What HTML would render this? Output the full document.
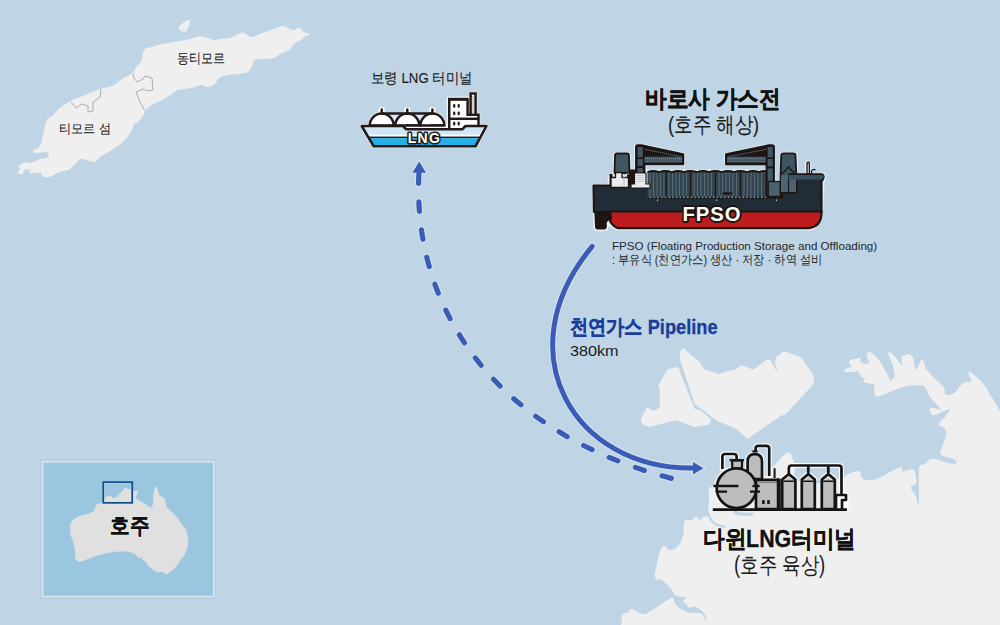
<!DOCTYPE html>
<html><head><meta charset="utf-8">
<style>
html,body{margin:0;padding:0;}
body{width:1000px;height:625px;overflow:hidden;position:relative;background:#bfd5e6;font-family:"Liberation Sans",sans-serif;color:#1a1a1a;}
svg.map{position:absolute;left:0;top:0;}
.t{position:absolute;white-space:nowrap;line-height:1;transform-origin:0 0;}
</style></head><body>
<svg class="map" width="1000" height="625" viewBox="0 0 1000 625">
<!-- Timor -->
<g fill="#efefef">
<path d="M179.0,27.0 C179.5,25.8 181.3,24.2 183.0,23.0 C184.7,21.8 187.8,20.2 189.0,20.0 C190.2,19.8 190.2,20.7 190.0,22.0 C189.8,23.3 188.8,26.3 188.0,28.0 C187.2,29.7 186.3,31.7 185.0,32.0 C183.7,32.3 181.0,30.8 180.0,30.0 C179.0,29.2 178.5,28.2 179.0,27.0 Z"/>
<path d="M47.0,120.0 C48.6,117.2 49.4,118.4 52.0,116.0 C54.6,113.6 56.2,111.0 60.0,108.0 C63.8,105.0 65.4,103.8 71.0,101.0 C76.6,98.2 82.2,96.4 88.0,94.0 C93.8,91.6 95.2,90.6 100.0,89.0 C104.8,87.4 107.6,88.0 112.0,86.0 C116.4,84.0 118.0,81.6 122.0,79.0 C126.0,76.4 129.0,75.6 132.0,73.0 C135.0,70.4 135.0,68.6 137.0,66.0 C139.0,63.4 140.6,63.2 142.0,60.0 C143.4,56.8 142.0,52.6 144.0,50.0 C146.0,47.4 148.4,48.2 152.0,47.0 C155.6,45.8 157.6,45.0 162.0,44.0 C166.4,43.0 168.4,43.0 174.0,42.0 C179.6,41.0 185.4,40.0 190.0,39.0 C194.6,38.0 194.2,37.4 197.0,37.0 C199.8,36.6 200.6,36.4 204.0,37.0 C207.4,37.6 210.8,39.6 214.0,40.0 C217.2,40.4 216.8,39.4 220.0,39.0 C223.2,38.6 226.4,39.0 230.0,38.0 C233.6,37.0 235.2,35.0 238.0,34.0 C240.8,33.0 241.2,32.4 244.0,33.0 C246.8,33.6 248.4,37.0 252.0,37.0 C255.6,37.0 257.6,34.6 262.0,33.0 C266.4,31.4 269.8,30.4 274.0,29.0 C278.2,27.6 279.8,26.0 283.0,26.0 C286.2,26.0 287.8,28.2 290.0,29.0 C292.2,29.8 292.2,30.2 294.0,30.0 C295.8,29.8 297.0,27.6 299.0,28.0 C301.0,28.4 301.8,30.8 304.0,32.0 C306.2,33.2 309.6,33.2 310.0,34.0 C310.4,34.8 307.8,34.8 306.0,36.0 C304.2,37.2 303.4,38.4 301.0,40.0 C298.6,41.6 296.4,42.0 294.0,44.0 C291.6,46.0 291.8,48.0 289.0,50.0 C286.2,52.0 283.0,52.4 280.0,54.0 C277.0,55.6 277.2,57.0 274.0,58.0 C270.8,59.0 267.8,58.6 264.0,59.0 C260.2,59.4 257.4,58.6 255.0,60.0 C252.6,61.4 253.4,63.6 252.0,66.0 C250.6,68.4 250.8,70.4 248.0,72.0 C245.2,73.6 242.0,73.4 238.0,74.0 C234.0,74.6 231.8,74.2 228.0,75.0 C224.2,75.8 221.6,76.2 219.0,78.0 C216.4,79.8 217.2,82.2 215.0,84.0 C212.8,85.8 210.8,86.8 208.0,87.0 C205.2,87.2 204.4,84.8 201.0,85.0 C197.6,85.2 195.6,87.0 191.0,88.0 C186.4,89.0 181.8,88.8 178.0,90.0 C174.2,91.2 175.2,92.0 172.0,94.0 C168.8,96.0 166.0,97.8 162.0,100.0 C158.0,102.2 155.2,103.0 152.0,105.0 C148.8,107.0 147.8,107.8 146.0,110.0 C144.2,112.2 144.6,113.6 143.0,116.0 C141.4,118.4 139.8,120.4 138.0,122.0 C136.2,123.6 135.2,122.4 134.0,124.0 C132.8,125.6 134.0,126.6 132.0,130.0 C130.0,133.4 128.0,137.0 124.0,141.0 C120.0,145.0 116.8,146.8 112.0,150.0 C107.2,153.2 103.6,154.6 100.0,157.0 C96.4,159.4 97.4,161.6 94.0,162.0 C90.6,162.4 86.2,159.2 83.0,159.0 C79.8,158.8 80.6,159.0 78.0,161.0 C75.4,163.0 73.6,166.8 70.0,169.0 C66.4,171.2 64.2,170.4 60.0,172.0 C55.8,173.6 52.6,176.2 49.0,177.0 C45.4,177.8 43.6,176.8 42.0,176.0 C40.4,175.2 43.4,173.6 41.0,173.0 C38.6,172.4 32.2,173.6 30.0,173.0 C27.8,172.4 31.2,170.6 30.0,170.0 C28.8,169.4 25.4,169.2 24.0,170.0 C22.6,170.8 24.2,173.4 23.0,174.0 C21.8,174.6 18.6,174.0 18.0,173.0 C17.4,172.0 19.8,170.4 20.0,169.0 C20.2,167.6 18.0,167.4 19.0,166.0 C20.0,164.6 22.8,162.6 25.0,162.0 C27.2,161.4 27.0,163.6 30.0,163.0 C33.0,162.4 36.8,160.0 40.0,159.0 C43.2,158.0 44.2,158.8 46.0,158.0 C47.8,157.2 49.0,156.2 49.0,155.0 C49.0,153.8 48.8,152.4 46.0,152.0 C43.2,151.6 37.4,153.4 35.0,153.0 C32.6,152.6 33.2,151.2 34.0,150.0 C34.8,148.8 37.4,149.0 39.0,147.0 C40.6,145.0 41.0,143.4 42.0,140.0 C43.0,136.6 43.0,134.0 44.0,130.0 C45.0,126.0 45.4,122.8 47.0,120.0 Z"/>
</g>
<g fill="none" stroke="#9b9b9b" stroke-width="0.8">
<path d="M71,102 L76,108 L82,104 L88,106 L88,112 L93,111 L93,102 L100,97 L101,89"/>
<path d="M133,73 L134,78 L137,82 L143,79 L145,76 L152,78 L153,90 L148,91 L143,89 L136,92 L140,102 L145,111"/>
</g>
<!-- Australia NT -->
<g fill="#efefef">
<path d="M646.8,407.3 L652.2,410.3 L656,410.3 L659.8,406.6 L659.8,389.1 L658.2,386 L667.4,369.3 L678,367 L694.7,408.8 L700.8,410.3 L706.9,415.7 L711.4,420.2 L709.1,424.8 L694.7,427.1 L675.7,420.2 L649.1,427.1 L642.3,424 L640.8,419.5 Z"/>
<path d="M683.3,348 L680.3,351.1 L679.8,358.7 L694.7,404.3 L703.1,410.3 L716,420.2 L736.4,429.1 L747.6,438.7 L781.2,415.5 L785.3,414.7 L814.1,383.4 L813.3,374.6 L800.5,357 L783.7,351.1 L776.4,357 L774.8,362.6 L778,373.8 L770,359.4 L766.8,359.4 L753.2,369.8 L741.2,365 L735.6,369.8 L730,370.6 L719,373.9 L703.8,369.3 L700,362.5 Z"/>
<path d="M844.0,371.5 C842.6,370.8 844.6,370.0 846.0,369.0 C847.4,368.0 848.5,367.8 850.0,367.2 C851.5,366.6 852.5,367.1 852.5,366.5 C852.5,365.9 850.7,365.8 850.0,364.5 C849.3,363.2 849.0,362.2 849.5,361.0 C850.0,359.8 850.5,360.0 852.0,359.5 C853.5,359.0 854.4,359.4 856.0,359.0 C857.6,358.6 858.0,358.0 859.0,358.0 C860.0,358.0 860.1,358.1 860.5,359.0 C860.9,359.9 859.9,360.9 860.5,362.0 C861.1,363.1 861.2,363.1 863.0,363.5 C864.8,363.9 866.6,363.7 868.0,363.5 C869.4,363.3 869.2,364.1 869.0,362.5 C868.8,360.9 867.4,358.6 867.0,356.5 C866.6,354.4 866.9,354.6 867.5,353.5 C868.1,352.4 868.2,351.9 869.5,352.0 C870.8,352.1 871.0,352.4 873.0,354.0 C875.0,355.6 875.9,356.4 878.0,359.0 C880.1,361.6 880.1,362.0 882.0,365.0 C883.9,368.0 884.4,369.0 886.0,372.0 C887.6,375.0 887.8,375.8 889.0,378.0 C890.2,380.2 890.3,381.3 891.0,381.5 C891.7,381.7 891.2,379.9 892.0,379.0 C892.8,378.1 894.0,379.4 894.5,377.5 C895.0,375.6 894.6,374.4 894.0,371.0 C893.4,367.6 893.2,366.5 892.0,363.0 C890.8,359.5 890.0,358.2 889.0,356.0 C888.0,353.8 887.5,354.3 887.5,353.5 C887.5,352.7 888.0,352.5 889.0,352.5 C890.0,352.5 890.4,352.2 892.0,353.5 C893.6,354.8 894.1,355.8 896.0,358.0 C897.9,360.2 898.5,361.4 900.0,363.0 C901.5,364.6 902.1,365.7 902.5,365.0 C902.9,364.3 901.7,362.0 901.5,360.0 C901.3,358.0 900.9,357.6 901.5,356.5 C902.1,355.4 902.8,355.9 904.0,355.5 C905.2,355.1 905.5,355.4 906.5,355.0 C907.5,354.6 907.5,353.9 908.5,354.0 C909.5,354.1 909.8,354.3 911.0,355.5 C912.2,356.7 912.7,356.8 913.5,359.0 C914.3,361.2 914.0,362.7 914.5,365.0 C915.0,367.3 914.8,368.3 915.5,369.0 C916.2,369.7 916.6,369.4 917.5,368.0 C918.4,366.6 918.6,364.9 919.5,363.0 C920.4,361.1 920.7,360.6 921.5,360.0 C922.3,359.4 922.3,359.6 923.0,360.5 C923.7,361.4 923.8,362.0 924.5,364.0 C925.2,366.0 924.7,366.9 926.0,369.0 C927.3,371.1 928.1,370.9 930.0,373.0 C931.9,375.1 931.5,375.3 934.2,378.0 C936.9,380.7 939.0,381.8 941.4,384.4 C943.8,387.0 943.7,387.0 944.6,389.2 C945.5,391.4 944.1,392.7 945.4,394.0 C946.7,395.3 947.8,395.4 950.2,394.8 C952.6,394.2 953.2,394.0 955.8,391.6 C958.4,389.2 959.0,386.6 961.4,384.4 C963.8,382.2 964.0,382.7 966.2,382.0 C968.4,381.3 970.4,383.4 971.0,381.2 C971.6,379.0 967.5,373.5 968.6,372.4 C969.7,371.3 972.3,373.6 975.8,376.4 C979.3,379.2 980.1,379.5 983.8,384.4 C987.5,389.3 988.0,390.9 991.8,397.2 C995.6,403.5 997.2,406.7 1000.0,411.6 C1002.8,416.5 1003.1,397.4 1004.0,418.0 C1004.9,438.6 1004.0,450.8 1004.0,500.0 C1004.0,549.2 1028.3,598.9 1004.0,629.0 C979.7,659.1 970.9,629.0 900.0,629.0 C829.1,629.0 760.7,629.0 700.0,629.0 C639.3,629.0 657.3,629.0 640.0,629.0 C622.7,629.0 630.3,629.6 626.0,629.0 C621.7,628.4 622.4,628.1 621.4,626.5 C620.4,624.9 621.3,624.9 621.6,622.0 C621.9,619.1 621.4,616.1 622.8,614.0 C624.2,611.9 625.6,613.9 627.6,612.8 C629.6,611.7 629.5,609.8 631.2,609.2 C632.9,608.6 632.0,609.3 634.8,610.4 C637.6,611.5 639.3,614.0 643.2,614.0 C647.1,614.0 647.1,612.9 651.6,610.4 C656.1,607.9 658.1,606.0 662.4,603.2 C666.7,600.4 667.4,600.2 670.0,598.5 C672.6,596.8 673.0,598.0 673.5,596.0 C674.0,594.0 674.6,593.6 672.0,590.0 C669.4,586.4 666.3,583.2 662.4,580.4 C658.5,577.6 656.5,581.8 655.2,578.0 C653.9,574.2 655.9,570.1 657.0,564.0 C658.1,557.9 658.4,556.2 660.0,552.0 C661.6,547.8 661.7,546.5 664.0,546.0 C666.3,545.5 666.7,550.0 670.0,550.0 C673.3,550.0 675.0,549.3 678.0,546.0 C681.0,542.7 681.6,541.1 683.0,536.0 C684.4,530.9 683.3,527.7 684.0,524.0 C684.7,520.3 684.1,520.9 686.0,520.0 C687.9,519.1 689.7,520.7 692.0,520.0 C694.3,519.3 694.1,517.0 696.0,517.0 C697.9,517.0 698.4,520.0 700.0,520.0 C701.6,520.0 701.4,517.9 703.0,517.0 C704.6,516.1 705.8,517.2 707.0,516.0 C708.2,514.8 707.5,515.7 708.0,512.0 C708.5,508.3 708.8,504.9 709.0,500.0 C709.2,495.1 708.1,494.3 709.0,491.0 C709.9,487.7 708.1,488.6 713.0,486.0 C717.9,483.4 719.0,481.9 730.0,480.0 C741.0,478.1 750.4,480.6 760.0,478.0 C769.6,475.4 764.7,474.8 771.0,469.0 C777.3,463.2 781.9,455.1 787.0,453.0 C792.1,450.9 791.1,456.5 793.0,460.0 C794.9,463.5 794.1,463.3 795.0,468.0 C795.9,472.7 791.2,476.5 797.0,480.0 C802.8,483.5 809.5,483.5 820.0,483.0 C830.5,482.5 835.9,479.8 842.0,478.0 C848.1,476.2 843.7,476.8 846.0,475.5 C848.3,474.2 849.2,473.5 852.0,472.5 C854.8,471.5 856.0,471.3 858.0,471.2 C860.0,471.1 859.8,471.0 860.5,472.0 C861.2,473.0 860.3,473.9 861.0,475.5 C861.7,477.1 861.4,477.9 863.5,479.0 C865.6,480.1 866.9,480.0 870.0,480.0 C873.1,480.0 873.7,480.1 877.0,479.0 C880.3,477.9 880.5,477.4 884.0,475.5 C887.5,473.6 888.3,472.9 892.0,471.0 C895.7,469.1 897.7,468.3 900.0,467.5 C902.3,466.7 901.4,466.7 902.0,467.5 C902.6,468.3 901.8,470.2 902.5,471.0 C903.2,471.8 903.2,471.4 905.0,471.0 C906.8,470.6 907.9,469.6 910.0,469.5 C912.1,469.4 912.7,469.0 914.0,470.5 C915.3,472.0 914.9,473.3 915.5,476.0 C916.1,478.7 916.7,480.0 916.5,482.0 C916.3,484.0 915.8,483.2 914.5,484.5 C913.2,485.8 911.1,485.5 911.0,487.5 C910.9,489.5 912.6,490.3 914.0,493.0 C915.4,495.7 916.1,496.0 917.0,499.0 C917.9,502.0 917.5,506.0 918.0,506.0 C918.5,506.0 918.8,505.1 919.0,499.0 C919.2,492.9 918.9,487.5 919.0,480.0 C919.1,472.5 918.1,470.7 919.5,467.0 C920.9,463.3 921.9,465.9 925.0,464.0 C928.1,462.1 927.5,459.1 932.6,458.8 C937.7,458.5 941.6,461.7 947.0,462.8 C952.4,463.9 954.1,464.3 955.8,463.6 C957.5,462.9 956.3,461.1 954.2,459.6 C952.1,458.1 950.2,458.5 947.0,457.2 C943.8,455.9 941.9,456.1 940.6,454.0 C939.3,451.9 940.7,451.2 941.4,448.4 C942.1,445.6 942.7,445.4 943.8,442.0 C944.9,438.6 946.0,437.2 946.2,434.0 C946.4,430.8 946.3,430.5 944.6,428.4 C942.9,426.3 939.9,426.9 939.0,425.2 C938.1,423.5 939.1,423.3 940.6,421.2 C942.1,419.1 943.3,419.2 945.4,416.4 C947.5,413.6 950.0,410.3 949.4,409.2 C948.8,408.1 946.2,410.3 943.0,411.6 C939.8,412.9 938.6,414.2 935.8,414.8 C933.0,415.4 932.3,415.5 931.0,414.0 C929.7,412.5 929.1,409.7 930.2,408.4 C931.3,407.1 933.4,408.2 935.8,408.4 C938.2,408.6 940.6,410.3 940.6,409.2 C940.6,408.1 938.3,406.4 935.8,403.6 C933.3,400.8 932.3,400.4 930.0,397.0 C927.7,393.6 927.6,391.6 926.0,389.0 C924.4,386.4 924.9,386.8 923.0,386.0 C921.1,385.2 921.0,385.6 918.0,385.5 C915.0,385.4 914.2,384.9 910.0,385.5 C905.8,386.1 904.7,386.5 900.0,388.0 C895.3,389.5 895.1,390.0 890.0,392.0 C884.9,394.0 881.5,396.0 878.0,396.5 C874.5,397.0 875.9,395.8 875.0,394.0 C874.1,392.2 874.0,391.1 874.0,389.0 C874.0,386.9 875.5,386.2 875.0,385.0 C874.5,383.8 873.9,384.5 872.0,384.0 C870.1,383.5 869.0,383.5 867.0,383.0 C865.0,382.5 864.1,382.9 863.5,382.0 C862.9,381.1 864.9,380.2 864.5,379.0 C864.1,377.8 863.2,378.2 862.0,377.0 C860.8,375.8 860.4,375.3 859.5,374.0 C858.6,372.7 859.8,372.0 858.0,371.5 C856.2,371.0 855.3,372.0 852.0,372.0 C848.7,372.0 845.4,372.2 844.0,371.5 Z"/>
</g>
<g fill="none" stroke="#bfd5e6" stroke-linecap="round" stroke-linejoin="round">
<path d="M708,513 Q710,521 716,524.5 Q721,526 725,527" stroke-width="2.2"/>
<path d="M735,512.5 Q742,515 752,514" stroke-width="3"/>
</g>
<path d="M672.5,595.0 C673.4,594.4 676.7,596.0 679.0,596.4 C681.3,596.8 685.7,596.6 686.4,597.4 C687.1,598.2 683.0,600.1 683.0,601.2 C683.0,602.3 685.4,602.7 686.4,603.8 C687.4,604.9 687.2,607.1 688.8,607.6 C690.4,608.1 693.8,606.4 696.0,607.0 C698.2,607.6 700.4,609.7 702.0,611.2 C703.6,612.7 704.7,614.1 705.5,616.0 C706.3,617.9 707.2,622.5 706.8,622.4 C706.4,622.3 704.2,617.1 703.0,615.5 C701.8,613.9 701.6,613.4 699.6,613.0 C697.6,612.6 693.8,613.4 691.2,613.0 C688.6,612.6 686.4,611.8 684.0,610.6 C681.6,609.4 678.5,607.6 676.8,605.8 C675.1,604.0 674.5,601.8 673.8,600.0 C673.1,598.2 671.6,595.6 672.5,595.0 Z" fill="#bfd5e6"/>
<!-- LNG carrier -->
<g id="lng">
 <g fill="#fff" stroke="#fff" stroke-width="3.5" stroke-linejoin="round">
  <path d="M361.7,126 L486.5,126 L475.5,146.3 L373.7,146.3 Z"/>
  <circle cx="381.7" cy="125.5" r="12"/><circle cx="407.3" cy="125.5" r="12"/><circle cx="432.4" cy="125.5" r="12"/>
  <rect x="448.5" y="98.6" width="19.5" height="28"/><rect x="470.6" y="93.5" width="5" height="22"/>
  <rect x="449" y="114.8" width="29.5" height="12"/>
  <rect x="380.5" y="109" width="2.4" height="5"/><rect x="406.1" y="109" width="2.4" height="5"/><rect x="431.2" y="109" width="2.4" height="5"/>
 </g>
 <rect x="382" y="113.5" width="50" height="10" fill="#d3e9f7"/>
 <rect x="404" y="124" width="61" height="5.5" fill="#fff"/>
 <g stroke="#231916" stroke-width="2.5">
  <path d="M369.7,125.5 A12,12 0 0 1 393.7,125.5 Z" fill="#fff"/>
  <path d="M395.3,125.5 A12,12 0 0 1 419.3,125.5 Z" fill="#fff"/>
  <path d="M420.4,125.5 A12,12 0 0 1 444.4,125.5 Z" fill="#fff"/>
  <line x1="381.7" y1="113.5" x2="432.4" y2="113.5"/>
  <line x1="381.7" y1="109.5" x2="381.7" y2="113.5" stroke-linecap="round"/>
  <line x1="407.3" y1="109.5" x2="407.3" y2="113.5" stroke-linecap="round"/>
  <line x1="432.4" y1="109.5" x2="432.4" y2="113.5" stroke-linecap="round"/>
  <rect x="470.6" y="93.5" width="5" height="22" fill="#fff"/>
  <path d="M449.2,129.4 L449.2,99.5 L467.6,99.5 L467.6,114.8 L478.5,114.8 L478.5,129.4 Z" fill="#fff"/>
  <line x1="448" y1="99" x2="468.2" y2="99"/>
  <line x1="449.2" y1="118.8" x2="478.5" y2="118.8"/>
 </g>
 <line x1="473" y1="96" x2="473" y2="113.5" stroke="#b5b5b5" stroke-width="1.2"/>
 <g fill="#231916">
  <rect x="453.1" y="104" width="2.2" height="3.8" rx="1"/><rect x="457.6" y="104" width="2.2" height="3.8" rx="1"/>
  <rect x="453.1" y="111.4" width="2.2" height="3.8" rx="1"/><rect x="457.6" y="111.4" width="2.2" height="3.8" rx="1"/>
  <rect x="453.1" y="121.8" width="2.2" height="3.8" rx="1"/><rect x="457.6" y="121.8" width="2.2" height="3.8" rx="1"/>
 </g>
 <clipPath id="hullclip"><path d="M361.7,126 L403,126 L406,129.2 L462.5,129.2 L465.5,126 L486.5,126 L475.5,146.3 L373.7,146.3 Z"/></clipPath>
 <g clip-path="url(#hullclip)">
  <rect x="355" y="120" width="140" height="30" fill="#cfe6f5"/>
  <rect x="355" y="134.6" width="140" height="2.2" fill="#fff"/>
  <rect x="355" y="136.6" width="140" height="1.6" fill="#231916"/>
  <rect x="355" y="138.2" width="140" height="7" fill="#23b0e6"/>
 </g>
 <path d="M361.7,126 L403,126 L406,129.2 L462.5,129.2 L465.5,126 L486.5,126 L475.5,146.3 L373.7,146.3 Z" fill="none" stroke="#231916" stroke-width="2.6" stroke-linejoin="round"/>
 <line x1="406.5" y1="125" x2="419" y2="125" stroke="#231916" stroke-width="1.5" stroke-linecap="round"/>
 <line x1="430.5" y1="125" x2="444" y2="125" stroke="#231916" stroke-width="1.5" stroke-linecap="round"/>
 <text x="424.5" y="143" text-anchor="middle" font-family="Liberation Sans" font-weight="bold" font-size="14" letter-spacing="1.3" fill="#fff" stroke="#231916" stroke-width="3" paint-order="stroke" stroke-linejoin="round">LNG</text>
</g>

<!-- FPSO -->
<g id="fpso">
 <!-- white halo -->
 <g fill="#e6f0f6" stroke="#e6f0f6" stroke-width="3.2" stroke-linejoin="round">
  <path d="M593.5,185.5 L609.5,185.5 L609.5,177 L614.5,173 L614.5,155 Q615,153.5 617,153.5 L627,153.5 Q629,153.5 629.5,155 L630,172 L635.5,172 L635.5,146 Q636,145 638,145 L642,145 L683.5,154 L683.5,164.5 L645,164.5 L645,171 L767,171 L767,145.5 L773.5,145.5 L774,181.5 L780.5,181.5 L781,155 Q781.5,153.4 783.5,153.4 L793,153.4 Q795.5,153.4 796,155 L796.5,175 L806.5,175 L806.5,163 Q808,161 809.5,163 L810,175 L822.8,174 Q826,176 823,181 L821.5,212 Q821,226 810,229 L618,229 Q613,227 609,224 L606.8,226.5 Q606.8,229.6 603.6,229.6 L598.2,229.6 Q595,229.6 595,226.5 L594.5,212 Z"/>
  <path d="M725.8,154.4 L767,145.5 L767,162.8 L725.8,162.8 Z"/>
 </g>
 <!-- hull -->
 <path d="M593.5,185.5 L651,185.5 L651,197.5 L782,197.5 L782,175 L822.8,175 Q825,176.5 821.5,181.5 L821.5,212 L594,212 Z" fill="#212d36" stroke="#1e1513" stroke-width="2.2" stroke-linejoin="round"/>
 <path d="M608.7,211.5 L821.5,211.5 L821.5,214 Q821,226.5 809,228.2 L618,228.2 Q613.5,226.5 611,222.8 Q609.6,220.8 610.6,218.8 Q611.8,215.5 608.7,211.5 Z" fill="#bd1d1f" stroke="#1e1513" stroke-width="2.2" stroke-linejoin="round"/>
 <path d="M594.3,211 L608.5,211 Q612.2,215.5 610.6,219 Q608,221.5 606.8,222 L606.8,226.5 Q606.8,229.6 603.6,229.6 L598.2,229.6 Q595,229.6 595,226.5 Z" fill="#1e1513"/>
 <!-- tanks -->
 <rect x="647.5" y="171.5" width="120" height="25.5" fill="#34444e"/>
 <g stroke="#62808f" stroke-width="0.7">
  <path d="M650,173V196M653.5,173V196M657,173V196M660.5,173V196M664,173V196M669,173V196M672.5,173V196M676,173V196M679.5,173V196M683,173V196M686.5,173V196M694,173V196M697.5,173V196M701,173V196M704.5,173V196M708,173V196M711.5,173V196M719,173V196M722.5,173V196M726,173V196M729.5,173V196M733,173V196M736.5,173V196M744,173V196M747.5,173V196M751,173V196M754.5,173V196M758,173V196M761.5,173V196"/>
 </g>
 <g stroke="#1e1513" stroke-width="1.3">
  <path d="M666,172V197M690.5,172V197M715.5,172V197M740.5,172V197"/>
 </g>
 <path d="M647.5,172 Q653,170 659,172 Q665,170 672,172 Q678,170 684,172 Q690,170 697,172 Q703,170 709,172 Q715,170 722,172 Q728,170 734,172 Q740,170 747,172 Q753,170 759,172 Q764,170 767.5,172" fill="none" stroke="#1e1513" stroke-width="1.8"/>
 <line x1="650" y1="197.3" x2="767" y2="197.3" stroke="#cfd3d4" stroke-width="0.9" stroke-dasharray="1.5 2.2"/>
 <rect x="722.5" y="192.3" width="9.5" height="2.4" fill="#1e1513"/>
 <g fill="#b9c3c8"><rect x="657" y="199.5" width="1" height="1.6"/><rect x="716" y="199.5" width="1" height="1.6"/><rect x="776" y="199.5" width="1" height="1.6"/></g>
 <rect x="627" y="169.5" width="9" height="17" fill="#1e1513"/>
 <rect x="609.5" y="174" width="3" height="12" fill="#1e1513"/>
 <!-- left tower -->
 <path d="M614.5,173 L615,155 Q615.3,153.5 617,153.5 L627,153.5 Q628.8,153.5 629,155 L629.5,173 Z" fill="#405663" stroke="#1e1513" stroke-width="1.8" stroke-linejoin="round"/>
 <!-- white block 1 -->
 <path d="M611,187.5 L611,177.5 L615.5,177.5 L615.5,172.5 L622,172.5 L622,177.5 L628.5,177.5 L628.5,187.5 Z" fill="#e9eced" stroke="#1e1513" stroke-width="1.3" stroke-linejoin="round"/>
 <path d="M624,187 L624,176 Q624,174 627,174 L629,174" fill="none" stroke="#b8bfc2" stroke-width="1"/>
 <!-- crane left -->
 <path d="M636,173 L636,146.5 Q636,145.3 637.5,145.3 L641.5,145.3 L683.3,154.3 L683.3,164.3 L644.5,164.3 L644.5,173 Z" fill="#1e1513" stroke="#1e1513" stroke-width="1.9" stroke-linejoin="round"/>
 <rect x="637.6" y="147" width="5.2" height="10.4" fill="#405663"/>
 <rect x="637.6" y="159" width="5.2" height="7" fill="#405663"/>
 <rect x="637.6" y="168" width="5.2" height="5" fill="#405663"/>
 <path d="M644.5,149.2 L681.5,156.8" stroke="#405663" stroke-width="1.1"/>
 <rect x="644.5" y="156.6" width="37.6" height="6" fill="#3e5461"/>
 <line x1="645" y1="158.6" x2="682" y2="158.6" stroke="#7891a0" stroke-width="1.2" stroke-dasharray="1 1"/>
 <line x1="645" y1="161.3" x2="682" y2="161.3" stroke="#7891a0" stroke-width="0.8" stroke-dasharray="1 1"/>
 <!-- white block 2 -->
 <path d="M631,188 L631,184 L634.5,184 L634.5,173 L646,173 L646,184 L650,184 L650,188 Z" fill="#e9eced" stroke="#1e1513" stroke-width="1.2" stroke-linejoin="round"/>
 <g stroke="#a8b0b3" stroke-width="0.6"><path d="M636.5,175.5H644M636.5,177.5H644M636.5,179.5H644M636.5,181.5H644"/></g>
 <!-- crane right -->
 <path d="M774,196 L774,146.8 Q774,145.3 772.5,145.3 L768.5,145.3 L726,154.3 L726,164.3 L766.5,164.3 L766.5,196 Z" fill="#1e1513" stroke="#1e1513" stroke-width="1.9" stroke-linejoin="round"/>
 <rect x="767.6" y="147" width="5.2" height="10.4" fill="#405663"/>
 <rect x="767.6" y="159" width="5.2" height="7.4" fill="#405663"/>
 <rect x="767.6" y="168.4" width="5.2" height="27" fill="#405663"/>
 <path d="M766.5,149.2 L728,156.8" stroke="#405663" stroke-width="1.1"/>
 <rect x="727.2" y="156.6" width="38.6" height="6" fill="#3e5461"/>
 <line x1="727.5" y1="158.6" x2="765.5" y2="158.6" stroke="#7891a0" stroke-width="1.2" stroke-dasharray="1 1"/>
 <line x1="727.5" y1="161.3" x2="765.5" y2="161.3" stroke="#7891a0" stroke-width="0.8" stroke-dasharray="1 1"/>
 <!-- right block + tower -->
 <rect x="768.2" y="181.5" width="12.3" height="15" fill="#4a6270" stroke="#1e1513" stroke-width="1.4"/>
 <path d="M780.5,192.5 L780.5,175 L781.2,155 Q781.5,153.4 783.5,153.4 L793,153.4 Q795.3,153.4 795.5,155 L796.4,175 L796.4,192.5 Z" fill="#3d5461" stroke="#1e1513" stroke-width="1.8" stroke-linejoin="round"/>
 <path d="M781,175 L781,192 L796,192 L796,175 Z" fill="#4a6572"/>
 <path d="M781.5,174.5 L788.5,167 L795.5,174.5" fill="none" stroke="#1e1513" stroke-width="1.4"/>
 <line x1="788.5" y1="175" x2="788.5" y2="192.5" stroke="#1e1513" stroke-width="1.2"/>
 <path d="M788.5,175 L822.8,175 Q825,176.5 822,179.5 L788.5,179.5 Z" fill="#3a5260"/>
 <path d="M782,197.5 L782,192.5 L788.5,192.5" fill="none" stroke="#1e1513" stroke-width="1.2"/>
 <!-- mast -->
 <path d="M807,175 L807,163 Q808.2,161.5 809.4,163 L809.4,175" fill="#d6d6d6" stroke="#1e1513" stroke-width="1.3"/>
 <path d="M811.5,175 L811.5,171 Q813,168.5 815.5,170" fill="none" stroke="#1e1513" stroke-width="1.3"/>
 <path d="M822.8,174.2 L788.5,174.2" stroke="#1e1513" stroke-width="1.8"/>
 <text x="711.9" y="220.6" text-anchor="middle" font-family="Liberation Sans" font-weight="bold" font-size="20.3" letter-spacing="0.9" fill="#fff" stroke="#1e1513" stroke-width="3.8" paint-order="stroke" stroke-linejoin="round">FPSO</text>
</g>


<!-- Darwin LNG terminal icon -->
<g id="term">
 <g fill="none" stroke="#fff" stroke-width="5" stroke-linejoin="round" stroke-linecap="round" stroke-opacity="0.9">
  <circle cx="736.5" cy="488.3" r="20"/>
  <path d="M722.4,469 L722.4,456.5 Q722.4,454 725,454 L734,454 Q736.6,454 736.6,456.5 L736.6,460"/>
  <path d="M747.6,478 L747.6,461.5 Q747.6,454.2 754.8,454.2 Q762,454.2 762,461.5 L762,478"/>
  <path d="M755.6,451 L755.6,448.5 Q755.6,445.8 758.3,445.8 L766.5,445.8 Q769.2,445.8 769.2,448.5 L769.2,476"/>
  <path d="M788.8,473 L788.8,468.3 Q788.8,465.5 791.6,465.5 L838.7,465.5 Q841.5,465.5 841.5,468.3 L841.5,494 L846,494 L846,509"/>
  <path d="M782.2,479.5 L788.8,474 L795.4,479.5 M801.8,479.5 L808.3,474 L814.8,479.5 M821.8,479.5 L828.3,474 L834.8,479.5"/>
 </g>
 <g stroke="#141414" stroke-width="2.7" stroke-linejoin="round">
  <!-- pipes -->
  <path d="M722.4,469 L722.4,456.5 Q722.4,454 725,454 L734,454 Q736.6,454 736.6,456.5 L736.6,460" fill="none"/>
  <path d="M755.6,451 L755.6,448.5 Q755.6,445.8 758.3,445.8 L766.5,445.8 Q769.2,445.8 769.2,448.5 L769.2,476" fill="none"/>
  <line x1="752.4" y1="451.4" x2="757.6" y2="451.4" stroke-width="2.2"/>
  <line x1="774.6" y1="468.2" x2="774.6" y2="478" stroke-width="2"/>
  <!-- building -->
  <path d="M756,509 L756,479.8 L779.4,479.8 L779.4,509 Z" fill="#bdbdbd"/>
  <line x1="758" y1="482.6" x2="777" y2="482.6" stroke-width="1.2" stroke="#8a8a8a"/>
  <line x1="778.1" y1="478.5" x2="778.1" y2="509"/>
  <!-- column -->
  <path d="M747.6,479 L747.6,461.5 Q747.6,454.2 754.8,454.2 Q762,454.2 762,461.5 L762,479 Z" fill="#bdbdbd"/>
  <!-- sphere cap -->
  <rect x="732.2" y="460.4" width="9.8" height="8" fill="#bdbdbd" stroke-width="2.2"/>
  <line x1="729.6" y1="460.2" x2="744" y2="460.2" stroke-width="2.2"/>
  <!-- sphere -->
  <circle cx="736.5" cy="488.3" r="19.8" fill="#bdbdbd"/>
  <!-- silos -->
  <path d="M788.8,473 L788.8,468.3 Q788.8,465.5 791.6,465.5 L838.7,465.5 Q841.5,465.5 841.5,468.3 L841.5,494" fill="none"/>
  <line x1="808.3" y1="465.5" x2="808.3" y2="473"/>
  <line x1="828.3" y1="465.5" x2="828.3" y2="473"/>
  <path d="M782.2,509 L782.2,479.5 L788.8,474 L795.4,479.5 L795.4,509 Z" fill="#bdbdbd"/>
  <path d="M801.8,509 L801.8,479.5 L808.3,474 L814.8,479.5 L814.8,509 Z" fill="#bdbdbd"/>
  <path d="M821.8,509 L821.8,479.5 L828.3,474 L834.8,479.5 L834.8,509 Z" fill="#bdbdbd"/>
  <path d="M836,509 L836,495 L846,495 L846,500 L842,500 L842,509" fill="#fff"/>
 </g>
 <g stroke="#141414" stroke-width="2.3" fill="none">
  <path d="M713.4,486 H738.4 M752.5,486 H759.6"/>
  <path d="M715.6,491.7 H727 M750,491.7 H760"/>
 </g>
 <g stroke="#fff" stroke-width="0.9" fill="none" opacity="0.8">
  <path d="M785,480 L788.8,477 L792.6,480 M804.5,480 L808.3,477 L812.1,480 M824.5,480 L828.3,477 L832.1,480"/>
 </g>
 <g stroke="#141414" stroke-width="1.6">
  <path d="M783.5,481.3 H794.1 M803.1,481.3 H813.5 M823.1,481.3 H833.5"/>
 </g>
 <g fill="#141414">
  <rect x="762.1" y="500.2" width="2.6" height="3.8"/><rect x="767.2" y="500.2" width="2.6" height="3.8"/>
 </g>
 <line x1="712.8" y1="509.6" x2="847" y2="509.6" stroke="#141414" stroke-width="2.8"/>
</g>

<!-- inset -->
<rect x="41.2" y="460.5" width="173.9" height="137.3" fill="none" stroke="#9fb9cc" stroke-opacity="0.2" stroke-width="2"/>
<rect x="42.5" y="461.8" width="171.3" height="134.7" fill="#9bc6e0" stroke="#d7e5ef" stroke-width="1.6"/>
<path d="M95,508 L97,504.4 L101.3,503.4 L104.8,498 L110,495.6 L113.5,498.5 L118,496.7 L119.5,494 L123,490.4 L125,488 L127.9,489 L130,489.7 L134.2,491.1 L138.4,491.8 L137,493.9 L135.2,498.1 L140.5,501.6 L144.2,503.2 L148.2,506.5 L151,508 L153.1,505.1 L153.8,493.2 L155.4,486.4 L157.8,490.4 L159.4,496 L164.2,498.4 L166.6,507.2 L171.3,512 L176.1,516.8 L180.9,523.2 L185.7,529.5 L188.1,539.1 L187.3,547.1 L184.1,555.1 L179.3,561.5 L176.1,566.3 L171.3,571.1 L166.6,574.3 L163.4,571.9 L157,571.9 L153,569.5 L149,566.3 L145.8,561.5 L142.6,559.9 L141.8,555.1 L140.2,558.3 L137.8,556.7 L134.6,553.5 L129.8,551.9 L124.8,550.9 L117.6,551.3 L107.5,552.7 L98.9,554.9 L90.2,557.8 L83,560.7 L78.7,561.4 L75.1,558.5 L75.8,552 L74.4,546.3 L73,540.5 L70.8,534.7 L70.1,531.8 L70.8,523.2 L73.7,519.6 L78.7,516.7 L88.8,513.8 L94.6,511 Z" fill="#e0e0e0" stroke="#e0e0e0" stroke-width="0.6" stroke-linejoin="round"/>
<rect x="104.2" y="483.1" width="27.1" height="18.8" fill="none" stroke="#f4f7f9" stroke-width="0.8"/>
<rect x="103.3" y="482.2" width="28.9" height="20.6" fill="none" stroke="#0f4f8e" stroke-width="1.8"/>
<!-- arcs -->
<g fill="none" stroke="#d6e5f0" stroke-opacity="0.85">
<path d="M419,172 C411.9,301.1 487,430.4 673,478.8" stroke-width="7.2" stroke-linecap="round" stroke-dasharray="9.5 18.6" stroke-dashoffset="-1.75"/>
<path d="M592.2,246.4 C504.3,352.1 573.9,470.2 694,468" stroke-width="7" stroke-linecap="round"/>
</g>
<path d="M419.2,160.3 L427,173.3 L411.4,173.3 Z" fill="#d6e5f0" fill-opacity="0.7" stroke="#d6e5f0" stroke-opacity="0.7" stroke-width="1.2" stroke-linejoin="round"/>
<path d="M705,468.2 L692.5,460.8 L692.5,475.6 Z" fill="#d6e5f0" fill-opacity="0.85" stroke="#d6e5f0" stroke-opacity="0.85" stroke-width="1.5" stroke-linejoin="round"/>
<path d="M419,172 C411.9,301.1 487,430.4 673,478.8" fill="none" stroke="#3b5cb6" stroke-width="5.2" stroke-linecap="round" stroke-dasharray="9.5 18.6" stroke-dashoffset="-1.75"/>
<path d="M419.2,161.5 L426,172.7 L412.4,172.7 Z" fill="#3b5cb6"/>
<path d="M592.2,246.4 C504.3,352.1 573.9,470.2 694,468" fill="none" stroke="#3b5cb6" stroke-width="5" stroke-linecap="round"/>
<path d="M703.5,468.2 L693,462 L693,474.5 Z" fill="#3b5cb6"/>
</svg>

<div class="t" style="-webkit-text-stroke:0.12px currentColor;text-shadow:0 0 1px #fff,0 0 2px #fff;left:176.5px;top:51.0px;font-size:14.00px;font-weight:normal;color:#1a1a1a;transform:scaleX(0.863);">동티모르</div>
<div class="t" style="-webkit-text-stroke:0.12px currentColor;text-shadow:0 0 1px #fff,0 0 2px #fff;left:58.5px;top:121.5px;font-size:13.36px;font-weight:normal;color:#1a1a1a;transform:scaleX(0.935);">티모르 섬</div>
<div class="t" style="-webkit-text-stroke:0.12px currentColor;left:370.5px;top:70.5px;font-size:14.89px;font-weight:normal;color:#1a1a1a;transform:scaleX(0.893);">보령 LNG 터미널</div>
<div class="t" style="-webkit-text-stroke:0.5px #111;left:645.0px;top:86.5px;font-size:23.89px;font-weight:bold;color:#111;transform:scaleX(0.899);">바로사 가스전</div>
<div class="t" style="-webkit-text-stroke:0.12px currentColor;left:668.0px;top:114.5px;font-size:21.50px;font-weight:normal;color:#1a1a1a;transform:scaleX(0.841);">(호주 해상)</div>
<div class="t" style="left:611.5px;top:239.5px;font-size:11.60px;font-weight:normal;color:#262626;transform:scaleX(1.002);">FPSO (Floating Production Storage and Offloading)</div>
<div class="t" style="left:611.5px;top:254.0px;font-size:12.66px;font-weight:normal;color:#262626;transform:scaleX(0.864);">: 부유식 (천연가스) 생산 · 저장 · 하역 설비</div>
<div class="t" style="-webkit-text-stroke:0.35px currentColor;left:570.0px;top:316.0px;font-size:21.05px;font-weight:bold;color:#1b3d9c;transform:scaleX(0.865);">천연가스 Pipeline</div>
<div class="t" style="left:570.0px;top:343.0px;font-size:15.30px;font-weight:normal;color:#1a1a1a;transform:scaleX(1.058);">380km</div>
<div class="t" style="-webkit-text-stroke:0.35px #111;text-shadow:0 0 1px #fff,0 0 2px #fff;left:702.5px;top:526.5px;font-size:23.79px;font-weight:bold;color:#111;transform:scaleX(0.898);">다윈LNG터미널</div>
<div class="t" style="-webkit-text-stroke:0.12px currentColor;text-shadow:0 0 1px #fff,0 0 2px #fff;left:734.0px;top:553.5px;font-size:23.37px;font-weight:normal;color:#1a1a1a;transform:scaleX(0.800);">(호주 육상)</div>
<div class="t" style="-webkit-text-stroke:0.3px #111;text-shadow:0 0 1px #fff,0 0 2px #fff;left:109.5px;top:514.5px;font-size:22.44px;font-weight:bold;color:#111;transform:scaleX(0.888);">호주</div>
</body></html>
